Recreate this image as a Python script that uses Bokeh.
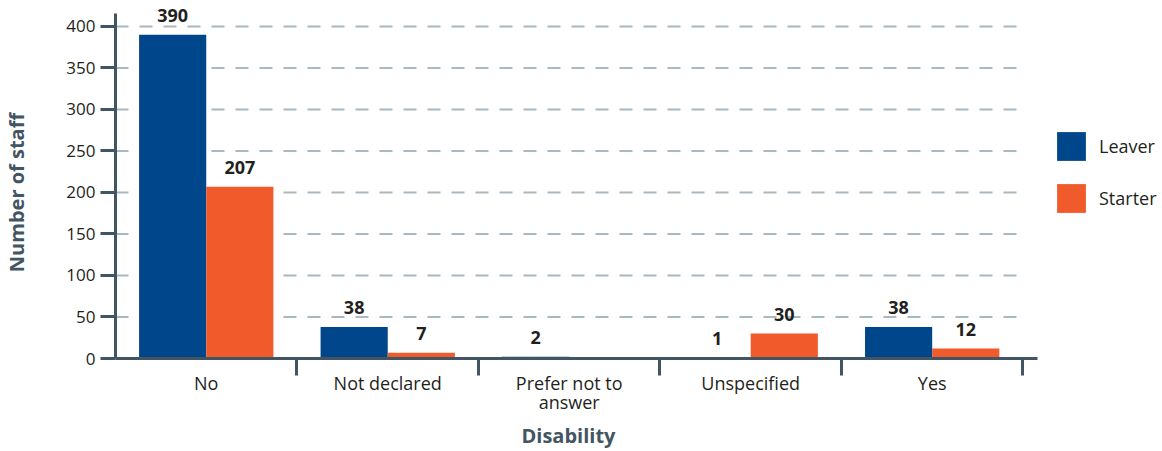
from bokeh.plotting import figure
from bokeh.models import (ColumnDataSource, FixedTicker, LabelSet, Title,
                          Legend, LegendItem, Range1d)
from bokeh.core.properties import value
from bokeh.transform import dodge
from bokeh.embed import file_html
from bokeh.resources import INLINE

# Staff movements by disability status
categories = ["No", "Not declared", "Prefer not to answer", "Unspecified", "Yes"]
tick_labels = ["No", "Not declared", "Prefer not to\nanswer", "Unspecified", "Yes"]
leaver = [390, 38, 2, 1, 38]
starter = [207, 7, None, 30, 12]
y_ticks = [0, 50, 100, 150, 200, 250, 300, 350, 400]

LEAVER_COLOR = "#00468b"
STARTER_COLOR = "#f15a2b"
AXIS_COLOR = "#425563"
TEXT_COLOR = "#231f20"
GRID_COLOR = "#a9b7c1"
FONT = "Open Sans"

n = len(categories)
centers = [i + 0.5 for i in range(n)]

src = ColumnDataSource(dict(
    x=centers,
    leaver=leaver,
    starter=[float("nan") if v is None else v for v in starter],
    leaver_txt=[str(v) for v in leaver],
    starter_txt=["" if v is None else str(v) for v in starter],
    starter_lbl=[0 if v is None else v for v in starter],
))

p = figure(width=1162, height=451, output_backend="svg", toolbar_location=None,
           x_range=Range1d(0, 5.769), y_range=Range1d(0, 431.3),
           min_border_left=115, min_border_right=0, min_border_top=0,
           min_border_bottom=93, outline_line_color=None)
p.xgrid.visible = False
p.ygrid.visible = False

# dashed horizontal guides across the category area
grid_y = y_ticks[1:]
p.segment(x0=[0] * len(grid_y), x1=[n] * len(grid_y), y0=grid_y, y1=grid_y,
          line_color=GRID_COLOR, line_width=2, line_dash="13 11")

bw = 0.37
r1 = p.vbar(x=dodge("x", -bw / 2, range=p.x_range), top="leaver", width=bw,
            source=src, fill_color=LEAVER_COLOR, line_color=None)
r2 = p.vbar(x=dodge("x", bw / 2, range=p.x_range), top="starter", width=bw,
            source=src, fill_color=STARTER_COLOR, line_color=None)

common = dict(source=src, text_font=value(FONT), text_font_size="18px",
              text_font_style="bold", text_color=TEXT_COLOR,
              text_align="center", text_baseline="alphabetic", y_offset=13)
p.add_layout(LabelSet(x=dodge("x", -bw / 2, range=p.x_range), y="leaver",
                      text="leaver_txt", **common))
p.add_layout(LabelSet(x=dodge("x", bw / 2, range=p.x_range), y="starter_lbl",
                      text="starter_txt", **common))

# x axis: labels at category centres, separators as minor ticks
xa = p.xaxis[0]
xa.ticker = FixedTicker(ticks=centers, minor_ticks=list(range(1, n + 1)))
xa.major_label_overrides = {c: t for c, t in zip(centers, tick_labels)}
xa.bounds = (0, 5.08)
xa.axis_line_color = AXIS_COLOR
xa.axis_line_width = 3
xa.major_tick_line_color = None
xa.major_tick_out = 0
xa.major_tick_in = 0
xa.minor_tick_line_color = AXIS_COLOR
xa.minor_tick_line_width = 3
xa.minor_tick_out = 17
xa.minor_tick_in = 0
xa.major_label_standoff = -5
xa.major_label_text_font = FONT
xa.major_label_text_font_size = "18px"
xa.major_label_text_line_height = 0.82
xa.major_label_text_color = TEXT_COLOR

ya = p.yaxis[0]
ya.ticker = FixedTicker(ticks=y_ticks, minor_ticks=[])
ya.bounds = (0, 415.7)
ya.axis_line_color = AXIS_COLOR
ya.axis_line_width = 3
ya.major_tick_line_color = AXIS_COLOR
ya.major_tick_line_width = 3
ya.major_tick_out = 15
ya.major_tick_in = 0
ya.minor_tick_line_color = None
ya.major_label_standoff = 5
ya.major_label_text_font = FONT
ya.major_label_text_font_size = "17px"
ya.major_label_text_color = TEXT_COLOR
# trailing no-break spaces nudge the title down to the middle of the axis line
ya.axis_label = "Number of staff" + "\u00a0" * 5
ya.axis_label_text_font = FONT
ya.axis_label_text_font_size = "20px"
ya.axis_label_text_font_style = "bold"
ya.axis_label_text_color = AXIS_COLOR
ya.axis_label_standoff = 33

p.add_layout(Title(text="Disability", align="left", offset=406,
                   text_font=FONT, text_font_size="20px",
                   text_font_style="bold", text_color=AXIS_COLOR,
                   standoff=4), "below")

legend = Legend(items=[LegendItem(label="Leaver", renderers=[r1]),
                       LegendItem(label="Starter", renderers=[r2])],
                location=(938, 142), orientation="vertical",
                glyph_width=36, glyph_height=36, spacing=16, label_standoff=10,
                padding=0, margin=0, border_line_color=None,
                background_fill_alpha=0, label_text_font=FONT,
                label_text_font_size="18px", label_text_color=TEXT_COLOR)
p.add_layout(legend)

open("out.html", "w").write(file_html(p, INLINE))
